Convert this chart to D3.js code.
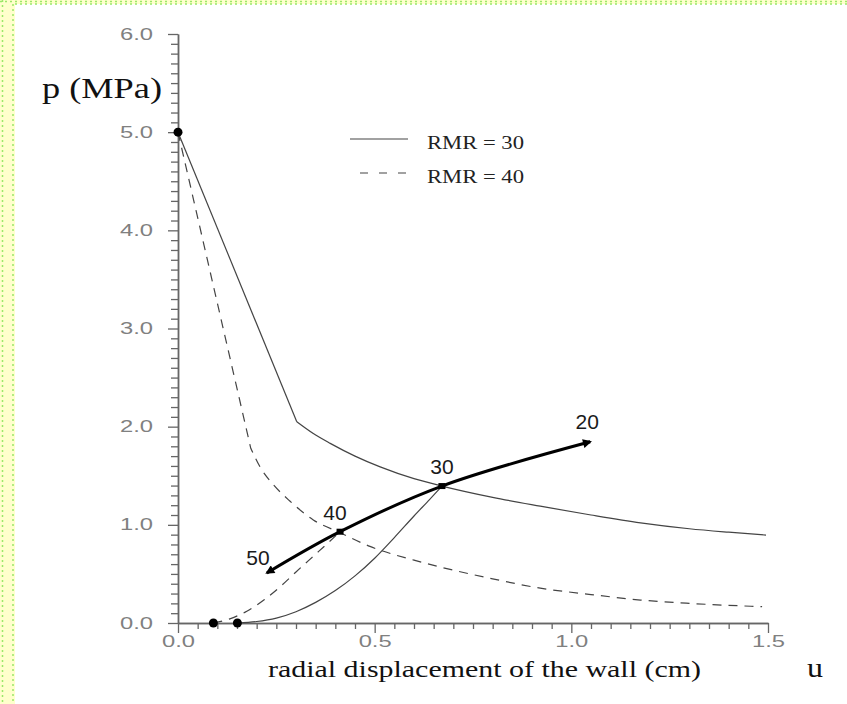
<!DOCTYPE html>
<html><head><meta charset="utf-8">
<script src="https://cdn.jsdelivr.net/npm/d3@7"></script>
<style>body{margin:0;background:#fff}svg{display:block}</style>
</head><body>
<svg id="c" width="847" height="704"></svg>
<script>
// ---- data ----
const yMajorTicks = [0, 1, 2, 3, 4, 5, 6];
const xMajorTicks = [0, 0.5, 1.0, 1.5];
const legendLabels = ["RMR = 30", "RMR = 40"];
// ground reaction curve RMR = 30 (linear elastic part, then plastic curve)
const grc30Linear = [[0, 5.0], [0.302, 2.05]];
const grc30Curve = [[0.302, 2.05], [0.344, 1.93], [0.387, 1.83], [0.45, 1.70], [0.514, 1.59], [0.6, 1.47],
  [0.671, 1.395], [0.8, 1.28], [0.921, 1.19], [1.05, 1.10], [1.176, 1.02], [1.3, 0.96], [1.4, 0.925], [1.495, 0.896]];
// ground reaction curve RMR = 40
const grc40Linear = [[0, 5.0], [0.185, 1.78]];
const grc40Curve = [[0.185, 1.78], [0.21, 1.58], [0.24, 1.42], [0.285, 1.24], [0.344, 1.05], [0.412, 0.92],
  [0.488, 0.78], [0.6, 0.64], [0.667, 0.57], [0.8, 0.45], [0.921, 0.355], [1.05, 0.29], [1.176, 0.234], [1.3, 0.2], [1.485, 0.166]];
// support characteristic curves
const support30 = [[0.151, 0], [0.2, 0.015], [0.25, 0.05], [0.3, 0.115], [0.35, 0.21], [0.4, 0.33], [0.45, 0.48],
  [0.5, 0.66], [0.55, 0.87], [0.6, 1.09], [0.64, 1.26], [0.671, 1.395]];
const support40 = [[0.09, 0], [0.13, 0.04], [0.175, 0.12], [0.22, 0.24], [0.26, 0.37], [0.30, 0.52], [0.344, 0.68],
  [0.38, 0.81], [0.412, 0.93]];
// equilibrium path for RMR values
const rmrLabels = ["50", "40", "30", "20"];
const rmrU = [0.226, 0.412, 0.671, 1.048];
const rmrP = [0.51, 0.93, 1.395, 1.846];
const startDots = [[0, 5.0], [0.09, 0], [0.151, 0]];

// ---- drawing ----
const svg = d3.select("#c");
// page frame
svg.append("rect").attr("x", 0).attr("y", 0).attr("width", 847).attr("height", 4).attr("fill", "#ffffcc");
svg.append("rect").attr("x", 0).attr("y", 0).attr("width", 15).attr("height", 704).attr("fill", "#ffffcc");
[[0, 1.5, 847, 1.5], [15, 4, 847, 4]].forEach(d => svg.append("line").attr("x1", d[0]).attr("y1", d[1]).attr("x2", d[2]).attr("y2", d[3])
  .attr("stroke", "#9be86a").attr("stroke-width", 1.5).attr("stroke-dasharray", "2,3"));
[[2.5, 0, 2.5, 704], [13, 4, 13, 704]].forEach(d => svg.append("line").attr("x1", d[0]).attr("y1", d[1]).attr("x2", d[2]).attr("y2", d[3])
  .attr("stroke", "#9be86a").attr("stroke-width", 1.5).attr("stroke-dasharray", "2,3"));

const x = d3.scaleLinear().domain([0, 1.5]).range([178, 768]);
const y = d3.scaleLinear().domain([0, 6]).range([623, 34]);
const axisColor = "#666";

// y axis
const gy = svg.append("g").attr("transform", "translate(178,0)");
gy.call(d3.axisLeft(y).tickValues(d3.range(0, 60.5, 1).map(d => d / 10)).tickSize(7).tickSizeOuter(0).tickFormat(""));
gy.call(g => g.selectAll(".tick").filter(d => Math.abs(d - Math.round(d)) < 1e-6).remove());
const gyM = svg.append("g").attr("transform", "translate(178,0)");
gyM.call(d3.axisLeft(y).tickValues(yMajorTicks).tickSize(10).tickSizeOuter(0).tickPadding(15).tickFormat(d3.format(".1f")));
[gy, gyM].forEach(g => { g.selectAll("path,line").attr("stroke", axisColor).attr("stroke-width", 1.3); });
gy.select(".domain").attr("stroke-width", 1.6);
gyM.selectAll("text").attr("font-family", "Liberation Sans, Arial, sans-serif").attr("font-size", 16).attr("fill", "#808080")
  .attr("textLength", 33).attr("lengthAdjust", "spacingAndGlyphs");

// x axis
const gx = svg.append("g").attr("transform", "translate(0,623)");
gx.call(d3.axisBottom(x).tickValues(d3.range(0, 30.5, 1).map(d => d / 20)).tickSize(6).tickSizeOuter(0).tickFormat(""));
gx.call(g => g.selectAll(".tick").filter(d => Math.abs(d * 2 - Math.round(d * 2)) < 1e-6).remove());
const gxM = svg.append("g").attr("transform", "translate(0,623)");
gxM.call(d3.axisBottom(x).tickValues(xMajorTicks).tickSize(10).tickSizeOuter(0).tickPadding(3).tickFormat(d3.format(".1f")));
[gx, gxM].forEach(g => { g.selectAll("path,line").attr("stroke", axisColor).attr("stroke-width", 1.3); });
gx.select(".domain").attr("stroke-width", 1.6);
gxM.selectAll("text").attr("font-family", "Liberation Sans, Arial, sans-serif").attr("font-size", 16).attr("fill", "#808080")
  .attr("textLength", 33).attr("lengthAdjust", "spacingAndGlyphs");

// axis titles
svg.append("text").attr("x", 42).attr("y", 98).text("p (MPa)")
  .attr("font-family", "Liberation Serif, Times New Roman, serif").attr("font-size", 29).attr("fill", "#111")
  .attr("textLength", 120).attr("lengthAdjust", "spacingAndGlyphs");
svg.append("text").attr("x", 268).attr("y", 677).text("radial displacement of the wall (cm)")
  .attr("font-family", "Liberation Serif, Times New Roman, serif").attr("font-size", 24).attr("fill", "#111")
  .attr("textLength", 433).attr("lengthAdjust", "spacingAndGlyphs");
svg.append("text").attr("x", 807).attr("y", 677).text("u")
  .attr("font-family", "Liberation Serif, Times New Roman, serif").attr("font-size", 28).attr("fill", "#111")
  .attr("textLength", 16).attr("lengthAdjust", "spacingAndGlyphs");

const lineLin = d3.line().x(d => x(d[0])).y(d => y(d[1]));
const lineCurve = d3.line().x(d => x(d[0])).y(d => y(d[1])).curve(d3.curveMonotoneX);
const thin = "#444";

// GRC RMR = 30 (solid)
svg.append("path").attr("d", lineLin(grc30Linear)).attr("fill", "none").attr("stroke", thin).attr("stroke-width", 1.2);
svg.append("path").attr("d", lineCurve(grc30Curve)).attr("fill", "none").attr("stroke", thin).attr("stroke-width", 1.2);
// GRC RMR = 40 (dashed)
svg.append("path").attr("d", lineLin(grc40Linear) + lineCurve(grc40Curve).replace(/^M/, "L"))
  .attr("fill", "none").attr("stroke", thin).attr("stroke-width", 1.2).attr("stroke-dasharray", "9,7");
// supports
svg.append("path").attr("d", lineCurve(support30)).attr("fill", "none").attr("stroke", thin).attr("stroke-width", 1.2);
svg.append("path").attr("d", lineCurve(support40)).attr("fill", "none").attr("stroke", thin).attr("stroke-width", 1.2).attr("stroke-dasharray", "9,7");

// thick equilibrium path with arrows
const defs = svg.append("defs");
defs.append("marker").attr("id", "arr").attr("viewBox", "0 0 10 10").attr("refX", 8).attr("refY", 5)
  .attr("markerWidth", 3.3).attr("markerHeight", 3).attr("orient", "auto-start-reverse").attr("markerUnits", "strokeWidth")
  .append("path").attr("d", "M0,0 L10,5 L0,10 z").attr("fill", "#000");
const rmrPts = rmrU.map((u, i) => [u, rmrP[i]]);
svg.append("path").attr("d", d3.line().x(d => x(d[0])).y(d => y(d[1])).curve(d3.curveCatmullRom)(rmrPts))
  .attr("fill", "none").attr("stroke", "#000").attr("stroke-width", 3)
  .attr("marker-start", "url(#arr)").attr("marker-end", "url(#arr)");
// squares on the equilibrium points
svg.selectAll("rect.eq").data(rmrPts.slice(1, 3)).enter().append("rect").attr("class", "eq")
  .attr("x", d => x(d[0]) - 3.5).attr("y", d => y(d[1]) - 3).attr("width", 7).attr("height", 6).attr("fill", "#000");
// labels
const labOff = [[-9, -8], [-5, -12], [0, -12], [-3, -13]];
svg.selectAll("text.rmr").data(rmrPts).enter().append("text").attr("class", "rmr")
  .attr("x", (d, i) => x(d[0]) + labOff[i][0]).attr("y", (d, i) => y(d[1]) + labOff[i][1])
  .attr("text-anchor", "middle").attr("font-family", "Liberation Sans, Arial, sans-serif").attr("font-size", 21)
  .attr("fill", "#1a1a1a").text((d, i) => rmrLabels[i]);

// start dots
svg.selectAll("circle.sd").data(startDots).enter().append("circle").attr("class", "sd")
  .attr("cx", d => x(d[0])).attr("cy", d => y(d[1])).attr("r", 4.5).attr("fill", "#000");

// legend
const leg = svg.append("g");
legendLabels.forEach((lab, i) => {
  const ly = 139 + i * 34;
  leg.append("line").attr("x1", 350).attr("x2", 408).attr("y1", ly).attr("y2", ly).attr("stroke", thin).attr("stroke-width", 1.2)
    .attr("stroke-dasharray", i === 0 ? null : "8,11").attr("stroke-dashoffset", i === 0 ? null : -10);
  leg.append("text").attr("x", 427).attr("y", ly + 10).text(lab)
    .attr("font-family", "Liberation Serif, Times New Roman, serif").attr("font-size", 19).attr("fill", "#222")
    .attr("textLength", 97).attr("lengthAdjust", "spacingAndGlyphs");
});
</script>
</body></html>
